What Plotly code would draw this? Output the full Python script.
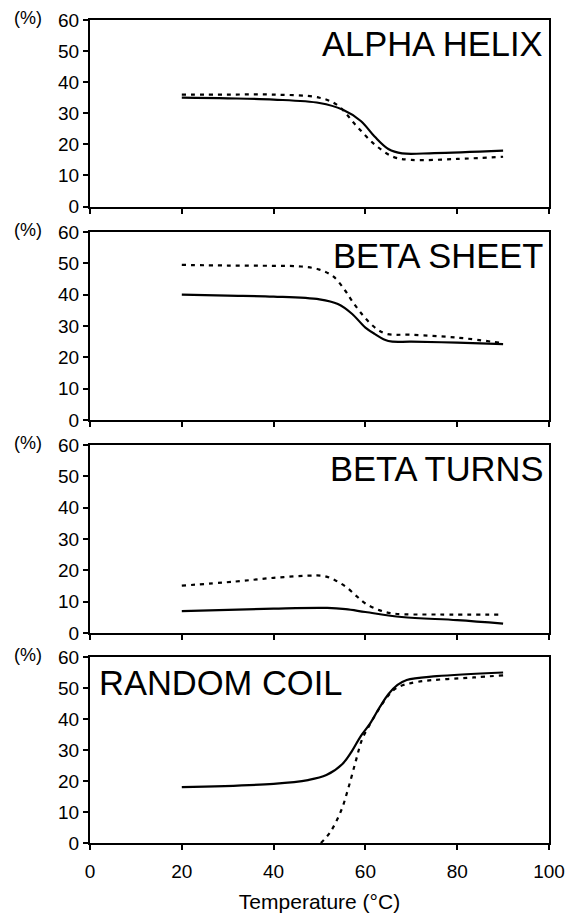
import plotly.graph_objects as go
from plotly.subplots import make_subplots

# ---- data (temperature in °C, content in %) ----
alpha_solid_x = [20, 30, 40, 50, 55, 59, 62, 65, 68, 75, 90]
alpha_solid_y = [35, 34.8, 34.4, 33.3, 31.2, 27.5, 22.5, 18.5, 17.1, 17.2, 18]
alpha_dash_x = [20, 30, 40, 50, 54, 58, 62, 66, 70, 80, 90]
alpha_dash_y = [36, 36, 36, 35, 32.5, 26, 20, 16, 15, 15.3, 16]

sheet_solid_x = [20, 30, 40, 50, 54, 57, 60, 62, 65, 70, 80, 90]
sheet_solid_y = [40, 39.7, 39.4, 38.5, 37, 34, 29.5, 27.5, 25.2, 25, 24.7, 24.2]
sheet_dash_x = [20, 30, 40, 46, 50, 53, 55.5, 57, 59.5, 62, 64.5, 70, 80, 90]
sheet_dash_y = [49.5, 49.3, 49.2, 49, 48, 45.8, 41.5, 38.2, 33.3, 29.6, 27.5, 27.2, 26.3, 24.5]

turns_solid_x = [20, 40, 51.7, 55.7, 60, 67.9, 80, 90]
turns_solid_y = [7, 7.8, 8.0, 7.6, 6.7, 5.1, 4.1, 3.0]
turns_dash_x = [20, 31.5, 40, 47.6, 50.9, 53.3, 55.7, 58.2, 60, 63, 66.2, 76, 90]
turns_dash_y = [15.1, 16.4, 17.6, 18.3, 18.2, 16.9, 14.8, 11.6, 9.4, 7.3, 6.2, 5.9, 5.9]

coil_solid_x = [20, 40, 47.5, 51.5, 55, 57, 59, 61, 63, 65, 67, 69, 75.5, 90]
coil_solid_y = [18, 19.1, 20.3, 21.9, 25.5, 29.5, 34.5, 38.5, 43.5, 48, 51, 52.6, 53.8, 55]
coil_dash_x = [50.3, 52.3, 54.7, 56.3, 57.9, 59.3, 61, 63, 65, 67, 71.5, 83.6, 90]
coil_dash_y = [0, 3.4, 10.4, 17.8, 26.4, 33.5, 38.3, 43.3, 47.6, 50.2, 52.0, 53.4, 54.1]

panel_labels = ["ALPHA HELIX", "BETA SHEET", "BETA TURNS", "RANDOM COIL"]
x_ticks = [0, 20, 40, 60, 80, 100]
y_ticks = [0, 10, 20, 30, 40, 50, 60]
x_title = "Temperature (°C)"

panels = [
    (alpha_solid_x, alpha_solid_y, alpha_dash_x, alpha_dash_y),
    (sheet_solid_x, sheet_solid_y, sheet_dash_x, sheet_dash_y),
    (turns_solid_x, turns_solid_y, turns_dash_x, turns_dash_y),
    (coil_solid_x, coil_solid_y, coil_dash_x, coil_dash_y),
]

W, H = 581, 913
ML, MR, MT, MB = 90, 32, 20, 70
plot_h = H - MT - MB
plot_w = W - ML - MR
# panel pixel extents (top, bottom)
pix = [(20, 206.5), (232, 420), (445, 633), (657, 843)]


def py(p):
    return (H - MB - p) / plot_h


fig = make_subplots(rows=4, cols=1)
FONT = "Liberation Sans, Arial, sans-serif"

for i, (sx, sy, dx, dy) in enumerate(panels):
    r = i + 1
    fig.add_trace(go.Scatter(x=dx, y=dy, mode="lines", line=dict(color="black", width=2.2, dash="4px,5px", shape="spline", smoothing=1.0), showlegend=False, hoverinfo="skip"), row=r, col=1)
    fig.add_trace(go.Scatter(x=sx, y=sy, mode="lines", line=dict(color="black", width=2.2, shape="spline", smoothing=1.0), showlegend=False, hoverinfo="skip"), row=r, col=1)
    top, bot = pix[i]
    ax = "yaxis" if r == 1 else f"yaxis{r}"
    xa = "xaxis" if r == 1 else f"xaxis{r}"
    fig.layout[ax].update(domain=[py(bot), py(top)])
    fig.layout[xa].update(domain=[0, 1])

fig.update_xaxes(range=[0, 100], tickvals=x_ticks, ticks="outside", ticklen=5, tickwidth=1.5,
                 tickcolor="black", showline=True, linecolor="black", linewidth=2, mirror=True,
                 showgrid=False, zeroline=False, showticklabels=False, automargin=False,
                 tickfont=dict(family=FONT, size=19, color="black"))
fig.update_xaxes(showticklabels=True, row=4, col=1, ticklabelstandoff=5,
                 title=dict(text=x_title, font=dict(family=FONT, size=21, color="black"), standoff=14))
fig.update_yaxes(range=[0, 60], tickvals=y_ticks, ticks="outside", ticklen=5, tickwidth=1.5,
                 tickcolor="black", showline=True, linecolor="black", linewidth=2, mirror=True,
                 showgrid=False, zeroline=False, automargin=False,
                 tickfont=dict(family=FONT, size=19, color="black"))

annotations = []
for i, lab in enumerate(panel_labels):
    top, bot = pix[i]
    annotations.append(dict(text="(%)", xref="paper", yref="paper", x=(12 - ML) / plot_w,
                            y=py(top - 2), xanchor="left", yanchor="middle", showarrow=False,
                            font=dict(family=FONT, size=18, color="black")))
    if i < 3:
        annotations.append(dict(text=lab, xref="paper", yref="paper", x=(545 - ML) / plot_w,
                                y=py(top + 24), xanchor="right", yanchor="middle", showarrow=False,
                                font=dict(family=FONT, size=34.5, color="black")))
    else:
        annotations.append(dict(text=lab, xref="paper", yref="paper", x=(97 - ML) / plot_w,
                                y=py(top + 26), xanchor="left", yanchor="middle", showarrow=False,
                                font=dict(family=FONT, size=34.5, color="black")))

fig.update_layout(width=W, height=H, margin=dict(l=ML, r=MR, t=MT, b=MB),
                  paper_bgcolor="white", plot_bgcolor="white", annotations=annotations)

fig.write_html("out.html")
